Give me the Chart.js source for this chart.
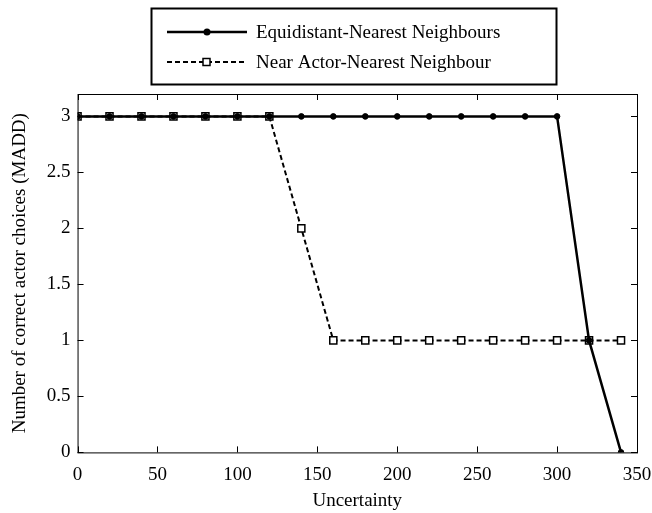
<!DOCTYPE html>
<html>
<head>
<meta charset="utf-8">
<script src="https://cdn.jsdelivr.net/npm/chart.js@4"></script>
<style>
  html, body { margin: 0; padding: 0; background: #fff; }
  #wrap { width: 652px; height: 513px; }
</style>
</head>
<body>
<div id="wrap"><canvas id="grafico"></canvas></div>
<script>
// dados
const incerteza = [0, 20, 40, 60, 80, 100, 120, 140, 160, 180, 200, 220, 240, 260, 280, 300, 320, 340];
const equidistante = [3, 3, 3, 3, 3, 3, 3, 3, 3, 3, 3, 3, 3, 3, 3, 3, 1, 0];
const atorProximo = [3, 3, 3, 3, 3, 3, 3, 2, 1, 1, 1, 1, 1, 1, 1, 1, 1, 1];
const xTicks = [0, 50, 100, 150, 200, 250, 300, 350];
const yTicks = [0, 0.5, 1, 1.5, 2, 2.5, 3];

const fonte = 'Liberation Serif, Times New Roman, serif';

function pontos(ys) {
    return incerteza.map((x, i) => ({ x: x, y: ys[i] }));
}

// ticks para dentro nos quatro lados + legenda com moldura
const molduraPlugin = {
    id: 'moldura',
    afterDraw(chart) {
        const ctx = chart.ctx;
        const a = chart.chartArea;
        const sx = chart.scales.x, sy = chart.scales.y;
        ctx.save();
        ctx.strokeStyle = '#000';
        ctx.lineWidth = 1;
        ctx.strokeRect(a.left + 0.5, a.top + 0.5, a.right - a.left, a.bottom - a.top);
        ctx.beginPath();
        xTicks.forEach(v => {
            const px = Math.round(sx.getPixelForValue(v)) + 0.5;
            ctx.moveTo(px, a.bottom); ctx.lineTo(px, a.bottom - 6);
            ctx.moveTo(px, a.top); ctx.lineTo(px, a.top + 6);
        });
        yTicks.forEach(v => {
            const py = Math.round(sy.getPixelForValue(v)) + 0.5;
            ctx.moveTo(a.left, py); ctx.lineTo(a.left + 6, py);
            ctx.moveTo(a.right, py); ctx.lineTo(a.right - 6, py);
        });
        ctx.stroke();

        // legenda
        const bx = 151.5, by = 8.5, bw = 405, bh = 76;
        ctx.fillStyle = '#fff';
        ctx.fillRect(bx, by, bw, bh);
        ctx.lineWidth = 2;
        ctx.strokeRect(bx, by, bw, bh);
        ctx.font = '19px ' + fonte;
        ctx.textBaseline = 'middle';
        chart.data.datasets.slice().reverse().forEach((ds, i) => {
            const y = 32 + i * 30;
            ctx.beginPath();
            ctx.strokeStyle = '#000';
            ctx.lineWidth = ds.borderWidth;
            ctx.setLineDash(ds.borderDash || []);
            ctx.moveTo(167, y); ctx.lineTo(247, y);
            ctx.stroke();
            ctx.setLineDash([]);
            ctx.lineWidth = 1.5;
            if (ds.pointStyle === 'rect') {
                ctx.fillStyle = '#fff';
                ctx.fillRect(203, y - 3.5, 7, 7);
                ctx.strokeRect(203, y - 3.5, 7, 7);
            } else {
                ctx.fillStyle = '#000';
                ctx.beginPath();
                ctx.arc(207, y, 3.5, 0, Math.PI * 2);
                ctx.fill();
            }
            ctx.fillStyle = '#000';
            ctx.fillText(ds.label, 256, y + 1);
        });
        ctx.restore();
    }
};

new Chart(document.getElementById('grafico').getContext('2d'), {
    type: 'scatter',
    data: {
        datasets: [{
            label: 'Near Actor-Nearest Neighbour',
            data: pontos(atorProximo),
            showLine: true,
            borderColor: '#000',
            borderWidth: 2,
            borderDash: [5, 3],
            pointStyle: 'rect',
            pointRadius: 5,
            pointBackgroundColor: '#fff',
            pointBorderColor: '#000',
            pointBorderWidth: 1.5,
            order: 2
        }, {
            label: 'Equidistant-Nearest Neighbours',
            data: pontos(equidistante),
            showLine: true,
            borderColor: '#000',
            borderWidth: 2.5,
            pointStyle: 'circle',
            pointRadius: 2.8,
            pointBorderWidth: 1,
            pointBackgroundColor: '#000',
            pointBorderColor: '#000',
            order: 1
        }]
    },
    options: {
        responsive: true,
        maintainAspectRatio: false,
        animation: false,
        layout: { padding: { top: 94, right: 15, left: 9, bottom: 1 } },
        plugins: {
            legend: { display: false },
            tooltip: { enabled: false }
        },
        scales: {
            x: {
                type: 'linear',
                min: 0,
                max: 350,
                afterBuildTicks: s => { s.ticks = xTicks.map(v => ({ value: v })); },
                afterFit: s => { s.paddingRight = 0; },
                ticks: { color: '#000', font: { family: fonte, size: 19 }, padding: 11, maxRotation: 0, callback: v => String(v) },
                grid: { display: false, drawTicks: false },
                border: { display: false },
                title: { display: true, text: 'Uncertainty', color: '#000', font: { family: fonte, size: 19 }, padding: { top: -8, bottom: 0 } }
            },
            y: {
                type: 'linear',
                min: 0,
                max: 3.2,
                afterBuildTicks: s => { s.ticks = yTicks.map(v => ({ value: v })); },
                ticks: { color: '#000', font: { family: fonte, size: 19 }, padding: 7, callback: v => String(v) },
                grid: { display: false, drawTicks: false },
                border: { display: false },
                title: { display: true, text: 'Number of correct actor choices (MADD)', color: '#000', font: { family: fonte, size: 19 }, padding: { top: 0, bottom: 8 } }
            }
        }
    },
    plugins: [molduraPlugin]
});
</script>
</body>
</html>
